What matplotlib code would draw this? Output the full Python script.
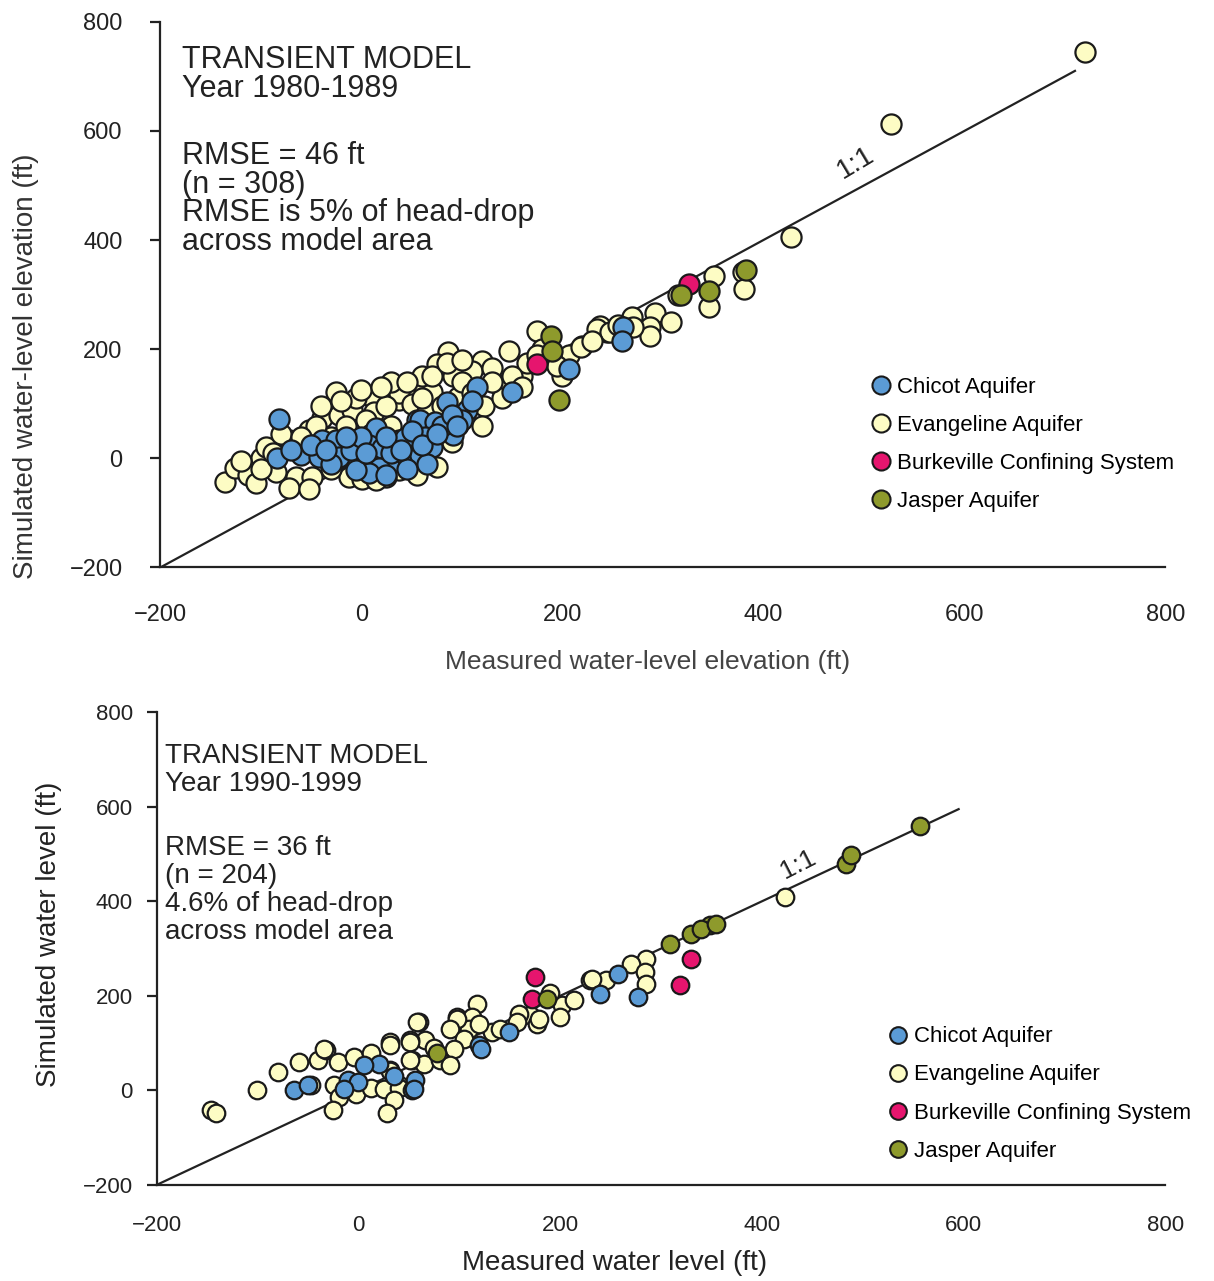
import matplotlib

matplotlib.use("Agg")

import matplotlib.pyplot as plt
from matplotlib.lines import Line2D

plt.rcParams["font.family"] = ["Liberation Sans", "DejaVu Sans"]

# ---- data: (measured, simulated) ----
TOP_EVANGELINE = [
    (720, 745), (527, 612), (427, 405), (380, 342), (381, 311), (351, 334), (346, 277),
    (292, 267), (308, 249), (287, 240), (287, 224), (269, 259), (244, 231), (237, 243),
    (220, 205), (234, 237), (247, 231), (175, 233), (207, 190), (219, 204), (147, 196),
    (120, 178), (86, 194), (75, 172), (91, 150), (58, 130), (43, 117), (137, 135),
    (160, 150), (96, 113), (122, 95), (96, 61), (38, 107), (-25, 122), (-136, -44),
    (-126, -17), (-113, -31), (-100, 0), (-72, 33), (-52, 52), (-65, -35), (-49, -35),
    (-72, -54), (-52, -56), (-39, 74), (-22, 80), (-9, 89), (11, 113), (13, 85),
    (38, 120), (70, 122), (38, -22), (25, -35), (-12, -35), (-95, 20), (1, -37),
    (110, 160), (180, 200), (200, 150), (165, 175), (100, 140), (-30, 40), (-80, 45),
    (-120, -5), (-88, 10), (-60, 20), (-45, 60), (-15, 60), (5, 70), (25, 95),
    (50, 100), (65, 85), (80, 95), (110, 120), (130, 165), (150, 150), (190, 180),
    (230, 215), (255, 245), (195, 170), (60, 150), (30, 140), (-5, 110), (75, -15),
    (55, -30), (15, -40), (-30, -20), (-85, -25), (-105, -45), (90, 30), (120, 60),
    (140, 110), (160, 130), (315, 300), (270, 240), (-40, 95), (-20, 105), (0, 125),
    (20, 130), (45, 140), (70, 150), (85, 175), (100, 180), (60, 110), (30, 60),
    (10, 45), (-15, 20), (130, 140), (175, 190), (-60, 40), (-100, -20),
]
TOP_CHICOT = [
    (-82, 72), (-84, 0), (-60, 6), (-42, 2), (-39, 33), (-25, 33), (-22, 2), (1, -4),
    (15, 56), (8, 24), (21, 19), (38, 33), (35, -4), (18, -17), (8, -26), (-5, -22),
    (61, 43), (55, 70), (58, 70), (73, 67), (63, 39), (91, 43), (43, 37), (45, 2),
    (58, 6), (85, 104), (105, 89), (115, 130), (150, 122), (207, 163), (260, 240),
    (259, 215), (25, -30), (45, -20), (70, 20), (30, 10), (-10, 15), (50, 50),
    (-70, 15), (0, 40), (80, 60), (100, 70), (-30, -10), (65, -10), (-50, 25),
    (-35, 15), (-15, 40), (5, 10), (25, 40), (40, 15), (60, 25), (75, 45), (90, 80),
    (110, 105), (95, 60),
]
TOP_BURKEVILLE = [(326, 319), (175, 172)]
TOP_JASPER = [(318, 300), (346, 306), (383, 345), (189, 224), (190, 196), (197, 107)]

BOT_EVANGELINE = [
    (423, 409), (285, 278), (270, 267), (284, 250), (285, 225), (245, 233), (230, 233),
    (202, 180), (214, 191), (200, 155), (170, 159), (177, 140), (159, 161), (132, 123),
    (118, 182), (106, 116), (98, 155), (179, 150), (157, 144), (113, 155), (110, 129),
    (98, 150), (91, 129), (105, 108), (95, 87), (60, 144), (66, 106), (51, 106),
    (53, 64), (65, 55), (81, 64), (31, 102), (31, 44), (40, 11), (91, 53), (-146, -42),
    (-141, -47), (-100, 0), (-80, 38), (-59, 59), (-47, 11), (-40, 64), (-32, 85),
    (-20, 59), (-24, 11), (-19, -15), (-25, -42), (-4, 70), (13, 80), (-2, -8), (13, 6),
    (25, 2), (31, 97), (31, 42), (40, 6), (35, -21), (28, -47), (51, 102), (51, 64),
    (58, 144), (-34, 87), (232, 235), (190, 205), (75, 90), (120, 140), (140, 130),
]
BOT_CHICOT = [
    (-64, 0), (-10, 21), (0, 17), (20, 55), (53, 0), (56, 23), (55, 2), (120, 95),
    (122, 87), (149, 123), (240, 203), (257, 246), (277, 197), (-14, 2), (6, 53),
    (-50, 12), (35, 30),
]
BOT_BURKEVILLE = [(175, 239), (172, 193), (330, 278), (319, 222)]
BOT_JASPER = [
    (557, 560), (483, 479), (488, 498), (349, 350), (330, 331), (340, 341), (309, 309),
    (354, 352), (187, 193), (78, 80),
]

LABELS = ["Chicot Aquifer", "Evangeline Aquifer", "Burkeville Confining System", "Jasper Aquifer"]
COLORS = ["#5b9bd5", "#fdfcc4", "#e6156e", "#8e9a2c"]
TICKS = [-200, 0, 200, 400, 600, 800]


def _scatter(ax, pts, color, size):
    xs = [p[0] for p in pts]
    ys = [p[1] for p in pts]
    ax.scatter(xs, ys, s=size, c=color, edgecolors="#1a1a1a", linewidths=1.6, zorder=3)


def _style(ax, tick_size, ypad, xpad):
    for side in ("top", "right"):
        ax.spines[side].set_visible(False)
    for side in ("left", "bottom"):
        ax.spines[side].set_linewidth(1.6)
        ax.spines[side].set_color("#222222")
    ax.set_xlim(-200, 800)
    ax.set_ylim(-200, 800)
    ax.set_xticks(TICKS)
    ax.set_yticks(TICKS)
    ax.tick_params(axis="y", direction="out", length=7, width=1.6, labelsize=tick_size,
                   colors="#222222", pad=ypad)
    ax.tick_params(axis="x", direction="out", length=0, labelsize=tick_size,
                   colors="#222222", pad=xpad)


def _legend(ax, anchor, size, fontsize, spacing):
    handles = [
        Line2D([], [], marker="o", ls="none", markersize=size, markerfacecolor=c,
               markeredgecolor="#1a1a1a", markeredgewidth=1.5)
        for c in COLORS
    ]
    ax.legend(handles, LABELS, loc="upper left", bbox_to_anchor=anchor, frameon=False,
              fontsize=fontsize, handletextpad=0.2, labelspacing=spacing, borderpad=0,
              handlelength=1.0)


fig = plt.figure(figsize=(12.14, 12.81), dpi=100)

# ---- top panel: 1980-1989 ----
ax1 = fig.add_axes([0.132, 0.557, 0.828, 0.426])
ax1.plot([-200, 710], [-200, 710], color="#222222", lw=1.6, zorder=2)
_scatter(ax1, TOP_EVANGELINE, COLORS[1], 210)
_scatter(ax1, TOP_CHICOT, COLORS[0], 210)
_scatter(ax1, TOP_BURKEVILLE, COLORS[2], 210)
_scatter(ax1, TOP_JASPER, COLORS[3], 210)
_style(ax1, 17, 20, 26)
ax1.text(492, 542, "1:1", rotation=31, fontsize=20, ha="center", va="center", color="#222222")
ax1.text(0.022, 0.957, "TRANSIENT MODEL\nYear 1980-1989", transform=ax1.transAxes,
         fontsize=22, va="top", ha="left", linespacing=0.95, color="#222222")
ax1.text(0.022, 0.782, "RMSE = 46 ft\n(n = 308)\nRMSE is 5% of head-drop\nacross model area",
         transform=ax1.transAxes, fontsize=22, va="top", ha="left", linespacing=0.95,
         color="#222222")
ax1.set_xlabel("Measured water-level elevation (ft)", fontsize=19, color="#444444")
ax1.xaxis.set_label_coords(0.485, -0.152)
ax1.set_ylabel("Simulated water-level elevation (ft)", fontsize=20, color="#333333")
ax1.yaxis.set_label_coords(-0.121, 0.368)
_legend(ax1, (0.695, 0.37), 13, 16, 0.77)

# ---- bottom panel: 1990-1999 ----
ax2 = fig.add_axes([0.129, 0.075, 0.831, 0.369])
ax2.plot([-200, 595], [-200, 595], color="#222222", lw=1.6, zorder=2)
_scatter(ax2, BOT_EVANGELINE, COLORS[1], 160)
_scatter(ax2, BOT_CHICOT, COLORS[0], 160)
_scatter(ax2, BOT_BURKEVILLE, COLORS[2], 160)
_scatter(ax2, BOT_JASPER, COLORS[3], 160)
_style(ax2, 16, 10, 22)
ax2.text(436, 478, "1:1", rotation=27, fontsize=19, ha="center", va="center", color="#222222")
ax2.text(0.008, 0.935, "TRANSIENT MODEL\nYear 1990-1999", transform=ax2.transAxes,
         fontsize=20, va="top", ha="left", linespacing=1.1, color="#222222")
ax2.text(0.008, 0.74, "RMSE = 36 ft\n(n = 204)\n4.6% of head-drop\nacross model area",
         transform=ax2.transAxes, fontsize=20, va="top", ha="left", linespacing=1.1,
         color="#222222")
ax2.set_xlabel("Measured water level (ft)", fontsize=20, color="#222222")
ax2.xaxis.set_label_coords(0.454, -0.137)
ax2.set_ylabel("Simulated water level (ft)", fontsize=20, color="#222222")
ax2.yaxis.set_label_coords(-0.094, 0.53)
_legend(ax2, (0.713, 0.359), 12, 16, 0.77)

fig.savefig("out.png", dpi=100)
